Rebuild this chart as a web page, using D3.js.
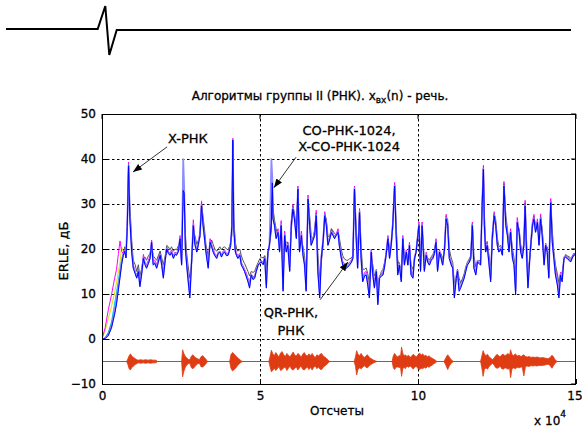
<!DOCTYPE html>
<html>
<head>
<meta charset="utf-8">
<script src="https://cdn.jsdelivr.net/npm/d3@7"></script>
<style>
body { margin: 0; background: #fff; }
svg { display: block; font-family: "DejaVu Sans", Verdana, sans-serif; }
svg text { stroke: #000; stroke-width: 0.3px; }
</style>
</head>
<body>
<div id="chart"></div>
<script>
// ---- data (x in units of 10^4 samples, ERLE in dB) ----
var xTicks = [0, 5, 10, 15];
var yTicks = [-10, 0, 10, 20, 30, 40, 50];
var xGrid = [5, 10];
var yGrid = [0, 10, 20, 30, 40];

var samplesX = [
	0,0.1,0.2,0.3,0.4,0.46,0.52,0.57,0.62,0.67,
	0.72,0.76,0.8,0.84,0.88,0.94,0.99,1.05,1.1,1.15,
	1.2,1.25,1.31,1.36,1.41,1.47,1.52,1.57,1.62,1.67,
	1.73,1.78,1.84,1.89,1.94,2.0,2.05,2.1,2.15,2.2,
	2.26,2.31,2.36,2.42,2.47,2.52,2.57,2.6,2.64,2.68,
	2.73,2.78,2.84,2.89,2.94,3.0,3.05,3.1,3.15,3.2,
	3.25,3.29,3.36,3.42,3.47,3.52,3.57,3.63,3.68,3.73,
	3.78,3.83,3.88,3.94,3.99,4.03,4.07,4.11,4.14,4.17,
	4.22,4.26,4.3,4.36,4.41,4.46,4.51,4.56,4.62,4.67,
	4.72,4.78,4.83,4.88,4.94,4.99,5.04,5.1,5.15,5.2,
	5.25,5.3,5.36,5.39,5.41,5.46,5.51,5.57,5.62,5.67,
	5.73,5.78,5.83,5.88,5.94,5.99,6.04,6.09,6.15,6.2,
	6.25,6.31,6.36,6.41,6.46,6.52,6.57,6.62,6.68,6.73,
	6.78,6.83,6.89,6.94,7.0,7.05,7.1,7.15,7.2,7.26,
	7.31,7.36,7.41,7.47,7.51,7.57,7.62,7.67,7.73,7.78,
	7.83,7.89,7.94,7.99,8.04,8.09,8.15,8.2,8.25,8.31,
	8.36,8.41,8.46,8.52,8.57,8.62,8.68,8.73,8.78,8.84,
	8.89,8.94,8.99,9.05,9.1,9.15,9.2,9.26,9.31,9.36,
	9.41,9.47,9.52,9.57,9.63,9.68,9.73,9.78,9.84,9.89,
	9.94,10.03,10.08,10.13,10.2,10.26,10.31,10.36,10.42,10.47,
	10.52,10.57,10.62,10.68,10.73,10.78,10.84,10.89,10.94,10.99,
	11.05,11.1,11.15,11.21,11.25,11.3,11.35,11.41,11.46,11.51,
	11.56,11.62,11.67,11.72,11.77,11.83,11.88,11.93,11.98,12.03,
	12.07,12.1,12.14,12.19,12.25,12.3,12.35,12.41,12.46,12.51,
	12.56,12.62,12.67,12.72,12.78,12.83,12.88,12.93,12.99,13.04,
	13.09,13.14,13.2,13.25,13.3,13.35,13.39,13.44,13.48,13.55,
	13.62,13.67,13.72,13.78,13.83,13.88,13.93,13.99,14.04,14.09,
	14.14,14.2,14.25,14.3,14.35,14.41,14.46,14.51,14.56,14.62,
	14.67,14.72,14.78,14.83,14.88,14.93,15.0
];

// РНК (blue)
var erleRNK = [
	0,0.1,0.8,2.5,5.5,7.8,11,13.7,16.5,18.5,
	19.5,18,25,38.5,27,19.3,15.7,14.5,13.5,15,
	11.6,14.2,17.9,16.5,15.7,16.8,17.9,21.5,16.4,16.8,
	15.7,17,18.6,16.4,13.5,17.5,20,19,18.6,19.2,
	17.9,18.8,18.6,19.5,22.3,16.4,33,32.5,20,16.4,
	12.7,9.1,17.9,25.2,21,19.3,21,23,29.6,25.2,
	22,19.3,15.7,21.5,20.5,19.3,18.5,17.9,19,19.3,
	18.2,19,19.3,18.5,18.6,19.5,20.8,25.2,44.2,24.5,
	19.3,18.5,17.9,18.6,16.4,15.8,15,14,12.7,11.3,
	14.2,13.2,13.5,15,16.4,16.8,17.1,16.5,17.9,11.3,
	19.3,20.8,26,34.7,26.7,25.2,22.3,23.7,19.3,25.2,
	10.6,23,19.3,20.8,15,25.2,28.9,26.7,22.3,33.3,
	19.3,23,18.6,16.4,10.6,31.1,25.2,20.8,22,23,
	27.4,15,9.1,17.9,22,27.4,25.2,20.8,22,23.7,
	23,22.3,23,23.7,20.8,18,16.4,16,15.7,16,
	16.4,17,17.9,33.3,23,15.7,28.1,17.9,12.7,14,
	14.2,12,9.1,19.3,14.2,11.3,15,7.6,13.5,14,
	14.2,16,18.6,22.3,17.9,20.8,25.2,34,23,14.2,
	16.4,12.7,22.3,16.4,19.3,16.4,20.8,14.2,13.5,17.9,
	19.3,25.2,15,25.2,15,18.6,17,16.4,17.5,17.9,
	19,21.5,15,19.3,18,16.4,20,26.7,25.2,17.9,
	16.5,15.7,9.1,13.5,15,10.6,11.3,12.5,13.5,15,
	16.4,17,17.9,25.2,15.7,14.2,17.1,16.8,16.4,29.6,
	37.7,25.2,19.3,20.8,16.4,12.7,22.3,27.4,25.2,20.8,
	19.3,20,18.6,34,25.2,23,19.3,23.7,17.9,16.4,
	9.8,25.9,23.7,19.3,17.9,20.8,29.6,17.9,11.3,19.3,
	25.2,26.7,23.7,25.9,20.8,26.7,23,16.4,20.8,19.3,
	13.5,30.3,21.5,17.9,14.2,12,9.1,14.2,12.7,17.9,
	18.2,17.9,17.5,17.1,18,18.6,18.8
];

// QR-РНК (light blue)
var erleQR = [
	0,0.1,0.9,2.7,6,8.5,11.8,14.2,17,18.8,
	19.5,18.3,25.5,38.6,27.5,19.5,16,14.8,13.8,15.2,
	12,14.4,18,16.8,16,17,18,21.5,16.8,17,
	16,17.2,18.8,16.6,14,17.7,20.1,19.2,18.8,19.4,
	18.2,19,18.8,19.7,22.4,16.8,40,34,20.5,16.8,
	13,9.8,18,25.5,21.2,19.5,21.2,23.2,29.8,25.3,
	22.2,19.5,16.2,21.6,20.7,19.5,18.7,18.1,19.2,19.4,
	18.4,19.2,19.5,18.7,18.8,19.7,20.9,25,44.2,24.7,
	19.5,18.7,18.1,18.8,16.7,16,15.2,14.3,13,11.8,
	14.3,13.4,13.7,15.1,16.4,16.9,17.3,16.7,18,12,
	19.2,20.9,40,36,27,25.3,22.6,23.8,19.6,25.4,
	11.2,23.2,19.6,21,15.4,25.4,29.1,26.8,22.6,33.4,
	19.6,23.2,18.9,16.6,11,31.3,25.5,21,22.2,23.2,
	27.6,15.5,9.8,18.1,22.2,27.6,25.4,21,22.2,23.8,
	23.2,22.5,23.1,23.8,21,18.3,16.7,16.3,16,16.2,
	16.6,17.2,18,33.4,23.2,16,28.3,18.1,13,14.3,
	14.5,12.4,9.6,19.4,14.5,11.7,15.2,8.2,13.7,14.2,
	14.4,16.2,18.8,22.4,18.1,20.9,25.3,34.1,23.2,14.7,
	16.6,13.2,22.4,16.6,19.4,16.6,20.9,14.5,13.9,18,
	19.4,25.3,15.4,25.3,15.4,18.8,17.2,16.6,17.7,18,
	19.1,21.6,15.4,19.4,18.2,16.6,20.2,26.9,25.3,18.1,
	16.7,15.9,9.6,13.7,15.2,11.2,11.8,12.8,13.7,15.2,
	16.6,17.2,18,25.3,16,14.6,17.3,17,16.6,29.8,
	37.8,25.4,19.5,21,16.7,13.3,22.5,27.5,25.3,21,
	19.5,20.1,18.8,34.1,25.4,23.2,19.6,23.8,18.1,16.7,
	10.6,26,23.8,19.5,18.1,21,29.7,18.1,11.9,19.4,
	25.3,26.8,23.9,26,21,26.8,23.2,16.8,20.9,19.5,
	13.9,30.4,21.7,18.1,14.6,12.6,9.7,14.4,13,18,
	18.3,18,17.7,17.3,18.1,18.7,18.9
];

// CO-РНК-1024 (dark grey)
var erleCO = [
	0,0.2,1.2,3.2,6.5,9,12,14.5,17,18.8,
	20.5,19.5,24,38.8,30,22,17.5,16.5,15,16.5,
	14,15.5,18,18.2,17.5,18.5,19,20.5,18.5,18,
	17.5,18.5,19.5,18,16.5,18.5,20.8,20.5,19.8,20.5,
	19.5,20,19.8,20.8,21.5,19,34.5,30,23,19,
	16,13.5,17,24,23,21,22,22.5,30.2,27,
	24,21,18.5,20.5,22,21,20,19.5,20,20.5,
	19.8,20.3,20.5,20,19.8,20.5,21.5,23,43.5,27,
	21.5,20,19.5,20,18.5,17.5,16.8,16,15,14,
	15,14.8,15,16,17,17.8,18.2,18,18.5,16,
	18.5,21,24,34.5,29,26.5,24.5,23,21.5,24.5,
	15,21.5,21.5,21.5,18,24,29.5,28,24.5,33.5,
	22,22,20.5,18.5,14.5,30,27.5,23,22,24.5,
	28,19,13.5,17,21,27.8,26.5,23,22.5,24.5,
	24,23.5,23,24,22.5,20,18.5,17.8,17.5,17.5,
	17.8,18,18.5,33.5,25.5,19,28.5,20.5,15.5,15.5,
	15.8,14.5,12.5,18,16.5,14,15,11,13.5,15,
	15.5,17,18.5,22.5,20,20.5,24.5,34.3,25.5,17.5,
	16.5,15.5,21,18.5,19,18,20,16.5,15.5,17.5,
	19.5,25.5,18,24.5,17.5,18.5,18,17.5,18.3,18.8,
	19.8,21.8,17.5,19,19,17.8,19.5,27.2,26.5,20,
	18,17,12.5,13,15.5,13.5,12.5,13.5,14.5,16,
	17,17.8,18.5,25.5,18.5,16,17,17.5,17.2,30,
	38,27.5,21.5,21.2,18.5,15.5,21,27.8,26.5,22.5,
	20.5,20.8,19.5,34.5,27.5,24.5,21,24,20,18,
	13.5,24.5,24.5,21,19,20.5,30.2,21,15,18.5,
	24.5,27.2,25,25.8,22.5,27.2,24.5,19,20.5,20.5,
	16,30.6,24,19.5,16.5,14.5,12.5,14.5,14.8,17.5,
	18.8,18.5,18.3,18,18.3,19,19
];

// X-CO-РНК-1024 (magenta)
var erleXCO = [
	0,2.5,6.5,9.8,13.5,15.5,19,21.8,19.5,19,
	20,18.8,26.5,39.3,28,20,16.5,15,14,15.5,
	12.5,14.5,18.8,17,16.5,17.5,18.5,22,17.5,17.5,
	16.5,17.8,19.5,17,15,18,20.5,19.5,19,19.8,
	18.5,19.3,19,20,23,17.5,35.2,33.5,21,17,
	14,11,18,26.5,21.5,20,21.5,24,30.7,25.5,
	22.5,20,17,22.3,21,20,19,18.5,19.3,19.5,
	18.8,19.5,19.8,19,19,20,21,24.5,44.6,25,
	20,19,18.5,19,17,16.3,15.5,14.8,13.5,12.5,
	14.5,13.8,14,15.3,16.5,17,17.5,17,18.5,14,
	19,21.3,27,35,27.5,25.5,23,24.5,20,26.3,
	12.5,24,20,21.5,16,26.3,30,27,23,34,
	20,24,19.3,17,12,32,26,21.5,22.5,24,
	28.6,16.5,11,18.5,22.5,28.3,25.8,21.5,22.5,24.5,
	23.5,22.8,23.3,24.5,21.5,18.8,17.2,16.8,16.5,16.7,
	17,17.5,18.3,34,23.5,16.5,29,18.5,13.5,14.8,
	15,13,10.5,20,15,12.5,15.5,9.5,14,14.5,
	14.8,16.5,19.3,23,18.5,21.3,26,34.8,23.5,15.5,
	17,14,23,17,19.8,17,21.5,15,14.5,18.3,
	19.5,26,16,26,16,19.3,17.5,17,18,18.3,
	19.3,22.3,16,19.8,18.5,17,20.5,27.7,25.5,18.5,
	17,16.2,10.5,14,15.5,12,12.5,13.2,14,15.5,
	16.8,17.5,18.3,26,16.5,15,17.5,17.2,16.8,30,
	38.6,25.8,19.8,21.7,17,14,23.3,28.3,25.5,21.2,
	19.8,20.3,19.2,35,25.8,23.5,20,24.5,18.5,17,
	11.5,27,24,19.8,18.5,21.7,30.8,18.5,13,19.5,
	26,27.7,24.2,26.7,21.5,27.8,23.5,17.5,21.3,19.8,
	14.5,31.2,22,18.5,15.5,13.5,11,14.8,13.5,18.3,
	18.5,18.3,18,17.5,18.3,19,19
];

// start-up part of the remaining two curves
var startX = [0, 0.1, 0.2, 0.3, 0.39, 0.46, 0.52, 0.57, 0.62, 0.67, 0.72];
var erleX = [0, 1.9, 4.5, 7.2, 10, 12.5, 15, 17, 20.5, 19.5, 19.5];
var erleQRstart = [0, 0.3, 1.5, 3.8, 7.5, 10.5, 13, 15.5, 17.5, 18.8, 19.5];

// speech signal x_вх(n), drawn around -5 dB: [x, upper swing, lower swing]
var speechLevel = -5;
var speech = [
	[0.78,0,0],[0.82,0.6,0.7],[0.86,1.3,1.6],[0.9,1.7,1.9],[0.94,1.2,1.4],[0.98,1,1.1],
	[1.02,0.8,0.9],[1.06,0.6,0.6],[1.1,0.4,0.5],[1.15,0.3,0.3],[1.22,0.4,0.4],[1.3,0.3,0.3],
	[1.38,0.4,0.4],[1.46,0.3,0.3],[1.54,0.4,0.4],[1.62,0.3,0.3],[1.7,0.3,0.3],[1.76,0,0],
	[2.52,0,0],[2.55,2.6,3.4],[2.59,1.8,2.2],[2.63,1.2,1.4],[2.68,0.8,0.8],[2.73,0.5,0.5],
	[2.78,0.4,0.4],[2.83,1.2,1.4],[2.88,1.5,1.6],[2.93,1,1.2],[2.98,0.8,0.8],[3.03,0.6,0.5],
	[3.08,0.4,0.4],[3.14,1.1,1.2],[3.19,1.3,1.2],[3.24,0.9,0.9],[3.29,0.5,0.5],[3.34,0,0],
	[4.04,0,0],[4.08,1.5,1.5],[4.13,2,2.1],[4.18,1.7,1.8],[4.23,1.3,1.5],[4.28,0.9,1],
	[4.33,0.6,0.6],[4.38,0.3,0.3],[4.44,0,0],
	[5.28,0,0],[5.32,1.2,1.2],[5.36,2.5,2.3],[5.4,1.8,2],[5.45,1.3,1.5],[5.5,2,2],
	[5.55,1.5,1.6],[5.6,1,1.1],[5.65,1.9,2],[5.7,2.2,1.8],[5.75,1.5,1.4],[5.8,1.1,1.2],
	[5.85,1.8,2],[5.9,1.4,1.5],[5.95,1,1],[6,1.6,1.7],[6.05,2.1,1.9],[6.1,1.4,1.5],
	[6.15,1.2,1.2],[6.2,1.8,1.9],[6.25,1.5,1.4],[6.3,0.9,1],[6.35,1.6,1.7],[6.4,2,1.9],
	[6.45,1.4,1.5],[6.5,1.2,1.2],[6.55,1.7,1.8],[6.6,1.3,1.3],[6.65,1.8,1.9],[6.7,1.2,1.3],
	[6.75,0.9,1],[6.8,1.5,1.6],[6.85,1.2,1.2],[6.9,1.6,1.7],[6.95,1.8,1.8],[7,1.2,1.3],
	[7.05,1,1],[7.1,0.7,0.7],[7.15,0.4,0.4],[7.2,0,0],
	[7.98,0,0],[8.02,1,1],[8.06,2.4,3],[8.1,1.6,1.8],[8.15,1.3,1.4],[8.2,1.8,1.6],
	[8.25,1.2,1.3],[8.3,0.9,0.9],[8.35,1.2,1.3],[8.4,1.5,1.4],[8.45,1,1],[8.5,0.7,0.7],
	[8.55,0.5,0.5],[8.6,0.3,0.3],[8.7,0,0],
	[9.18,0,0],[9.22,1.3,1.4],[9.26,1.8,1.8],[9.3,1.4,1.3],[9.35,1,1.2],[9.4,1.3,1.3],
	[9.45,1.3,1.4],[9.48,3.2,3.3],[9.52,1.8,1.6],[9.56,1.2,1.3],[9.6,1.5,1.6],[9.65,1.1,1],
	[9.7,1.4,1.3],[9.75,0.9,1],[9.8,1.2,1.3],[9.85,1.6,1.7],[9.9,1.3,1.2],[9.95,1,1.1],
	[10,1.5,1.6],[10.05,1.9,1.8],[10.1,1.4,1.5],[10.15,1.7,1.6],[10.2,1.2,1.3],[10.25,1.4,1.5],
	[10.3,1,1.1],[10.35,1.3,1.3],[10.4,0.9,1],[10.45,0.7,0.8],[10.5,0.5,0.5],[10.55,0.3,0.3],
	[10.6,0,0],
	[10.82,0,0],[10.88,0.8,0.8],[10.94,1.5,1.8],[10.99,1,1],[11.05,0.4,0.4],[11.12,0,0],
	[11.98,0,0],[12.02,1.2,1.4],[12.06,2.4,3.3],[12.1,1.7,1.8],[12.15,1.3,1.4],[12.2,1.6,1.7],
	[12.25,1,1.1],[12.3,0.8,0.8],[12.35,0.4,0.4],[12.4,0.7,0.7],[12.45,1.2,1.3],[12.5,1.6,1.5],
	[12.55,1.3,1.4],[12.6,1,1],[12.65,1.5,1.6],[12.7,1.6,1.7],[12.75,1.3,1.4],[12.8,1.5,1.5],
	[12.85,1.8,1.7],[12.9,1.4,1.5],[12.93,2.6,3.6],[12.97,1.6,1.7],[13.02,1.3,1.4],[13.08,1.7,1.6],
	[13.14,1.2,1.3],[13.2,1.4,1.4],[13.26,1.1,1.2],[13.3,1.3,1.3],[13.35,1.5,3.2],[13.4,1.1,1.1],
	[13.46,1,1],[13.52,1.1,1.1],[13.58,0.9,0.9],[13.64,1,1],[13.7,0.9,0.9],[13.76,1,1],
	[13.82,0.9,0.9],[13.88,0.8,0.9],[13.94,0.9,0.9],[14,0.8,0.8],[14.06,0.7,0.7],[14.12,0.6,0.6],
	[14.18,0.9,0.9],[14.24,1.4,1.5],[14.28,1.1,1],[14.33,0.5,0.5],[14.4,0,0]
];

// text annotations, positions in data units
var notes = [
	{ lines: ["X-РНК"], tx: 2.09, ty: [43.5], anchor: "start", from: [2.06, 42.7], to: [0.98, 37.1] },
	{ lines: ["CO-РНК-1024,", "X-CO-РНК-1024"], tx: 7.82, ty: [45.3, 41.8], anchor: "middle", from: [6.14, 40.4], to: [5.44, 33.6] },
	{ lines: ["QR-РНК,", "РНК"], tx: 5.98, ty: [4.9, 1.0], anchor: "middle", from: [6.9, 8.7], to: [7.78, 17.1] }
];

// ---- drawing ----
[erleRNK, erleQR, erleCO, erleXCO].forEach(function(arr){
	if(arr.length != samplesX.length){
		throw new Error("length mismatch " + arr.length + " vs " + samplesX.length);
	}
});

var W = 582, H = 428;
var padL = 102, padR = 576, padT = 114, padB = 384;

var svg = d3.select("#chart").append("svg")
	.attr("width", W)
	.attr("height", H);

// heading ornament
svg.append("path")
	.attr("d", "M6,29H97.7L105.3,6L109.3,55L116.7,30H571")
	.attr("fill", "none")
	.attr("stroke", "#000")
	.attr("stroke-width", 2);

var x = d3.scaleLinear().domain([0, 15]).range([padL, padR]);
var y = d3.scaleLinear().domain([-10, 50]).range([padB, padT]);

var defs = svg.append("defs");
defs.append("clipPath").attr("id", "plotclip")
	.append("rect")
	.attr("x", padL).attr("y", padT)
	.attr("width", padR - padL).attr("height", padB - padT);

defs.append("marker")
	.attr("id", "arrowhead")
	.attr("viewBox", "0 0 10 10")
	.attr("refX", 10).attr("refY", 5)
	.attr("markerWidth", 9).attr("markerHeight", 9)
	.attr("markerUnits", "userSpaceOnUse")
	.attr("orient", "auto")
	.append("path")
	.attr("d", "M0,1.2L10,5L0,8.8z")
	.attr("fill", "#000");

// grid
var grid = svg.append("g").attr("stroke", "#000").attr("stroke-width", 1).attr("stroke-dasharray", "2.5,2.5");
grid.selectAll("line.gx").data(xGrid).enter().append("line")
	.attr("x1", function(d){ return Math.round(x(d)) + 0.5; })
	.attr("x2", function(d){ return Math.round(x(d)) + 0.5; })
	.attr("y1", padT).attr("y2", padB);
grid.selectAll("line.gy").data(yGrid).enter().append("line")
	.attr("y1", function(d){ return Math.round(y(d)) + 0.5; })
	.attr("y2", function(d){ return Math.round(y(d)) + 0.5; })
	.attr("x1", padL).attr("x2", padR);

var plot = svg.append("g").attr("clip-path", "url(#plotclip)");

// speech
plot.append("line")
	.attr("x1", x(0)).attr("x2", x(15))
	.attr("y1", y(speechLevel)).attr("y2", y(speechLevel))
	.attr("stroke", "#e03c14").attr("stroke-width", 1);

var speechArea = d3.area()
	.x(function(d){ return x(d[0]); })
	.y0(function(d){ return y(speechLevel - d[2]); })
	.y1(function(d){ return y(speechLevel + d[1]); });

plot.append("path")
	.datum(speech)
	.attr("d", speechArea)
	.attr("fill", "#e03c14")
	.attr("stroke", "#e03c14")
	.attr("stroke-width", 0.8);

// ERLE curves
function curve(xsArr){
	return d3.line()
		.x(function(d, i){ return x(xsArr[i]); })
		.y(function(d){ return y(d); });
}

var series = [
	{ xs: startX, vals: erleX, color: "#e0e000", w: 1 },
	{ xs: samplesX, vals: erleXCO, color: "#ff00ff", w: 1 },
	{ xs: startX, vals: erleQRstart, color: "#00c8e8", w: 1 },
	{ xs: samplesX, vals: erleCO, color: "#555555", w: 1 },
	{ xs: samplesX, vals: erleQR, color: "#8c8cff", w: 1.7 },
	{ xs: samplesX, vals: erleRNK, color: "#0000ff", w: 1 }
];

series.forEach(function(s){
	plot.append("path")
		.attr("d", curve(s.xs)(s.vals))
		.attr("fill", "none")
		.attr("stroke", s.color)
		.attr("stroke-width", s.w)
		.attr("stroke-linejoin", "round");
});

// axes
var yAxis = d3.axisLeft(y).tickValues(yTicks).tickSize(-5).tickPadding(6);
var xAxis = d3.axisBottom(x).tickValues(xTicks).tickSize(-5).tickPadding(7);

var gy = svg.append("g").attr("transform", "translate(" + padL + ",0)").call(yAxis);
var gx = svg.append("g").attr("transform", "translate(0," + padB + ")").call(xAxis);
[gx, gy].forEach(function(g){
	g.select(".domain").remove();
	g.selectAll("text").attr("font-size", 12).attr("fill", "#000")
		.attr("font-family", "'DejaVu Sans', Verdana, sans-serif");
});
// last x label sits against the right edge, as in the original
gx.selectAll(".tick text").filter(function(d){ return d == 15; }).attr("dx", -1.5);

// mirrored ticks on top and right
svg.append("g").selectAll("line").data(yTicks).enter().append("line")
	.attr("x1", padR).attr("x2", padR - 5)
	.attr("y1", function(d){ return y(d); }).attr("y2", function(d){ return y(d); })
	.attr("stroke", "#000");
svg.append("g").selectAll("line").data(xTicks).enter().append("line")
	.attr("y1", padT).attr("y2", padT + 5)
	.attr("x1", function(d){ return x(d); }).attr("x2", function(d){ return x(d); })
	.attr("stroke", "#000");

// frame
svg.append("rect")
	.attr("x", padL + 0.5).attr("y", padT + 0.5)
	.attr("width", padR - padL - 1).attr("height", padB - padT)
	.attr("fill", "none")
	.attr("stroke", "#000")
	.attr("stroke-width", 1);

// annotations
notes.forEach(function(n){
	n.lines.forEach(function(t, i){
		svg.append("text")
			.attr("x", x(n.tx)).attr("y", y(n.ty[i]))
			.attr("text-anchor", n.anchor)
			.attr("font-size", 13)
			.text(t);
	});
	svg.append("line")
		.attr("x1", x(n.from[0])).attr("y1", y(n.from[1]))
		.attr("x2", x(n.to[0])).attr("y2", y(n.to[1]))
		.attr("stroke", "#000")
		.attr("stroke-width", 0.8)
		.attr("marker-end", "url(#arrowhead)");
});

// title
var title = svg.append("text")
	.attr("x", 320).attr("y", 100)
	.attr("text-anchor", "middle")
	.attr("font-size", 12);
title.append("tspan").text("Алгоритмы группы II (РНК). x");
title.append("tspan").attr("font-size", 9).attr("dy", 3).text("вх");
title.append("tspan").attr("dy", -3).text("(n) - речь.");

// axis labels
svg.append("text")
	.attr("x", 337).attr("y", 415)
	.attr("text-anchor", "middle")
	.attr("font-size", 12)
	.text("Отсчеты");

svg.append("text")
	.attr("transform", "translate(68,251) rotate(-90)")
	.attr("text-anchor", "middle")
	.attr("font-size", 13)
	.text("ERLE, дБ");

var mult = svg.append("text")
	.attr("x", 566).attr("y", 425)
	.attr("text-anchor", "end")
	.attr("font-size", 12);
mult.append("tspan").text("x 10");
mult.append("tspan").attr("font-size", 9).attr("dy", -8).text("4");
</script>
</body>
</html>
